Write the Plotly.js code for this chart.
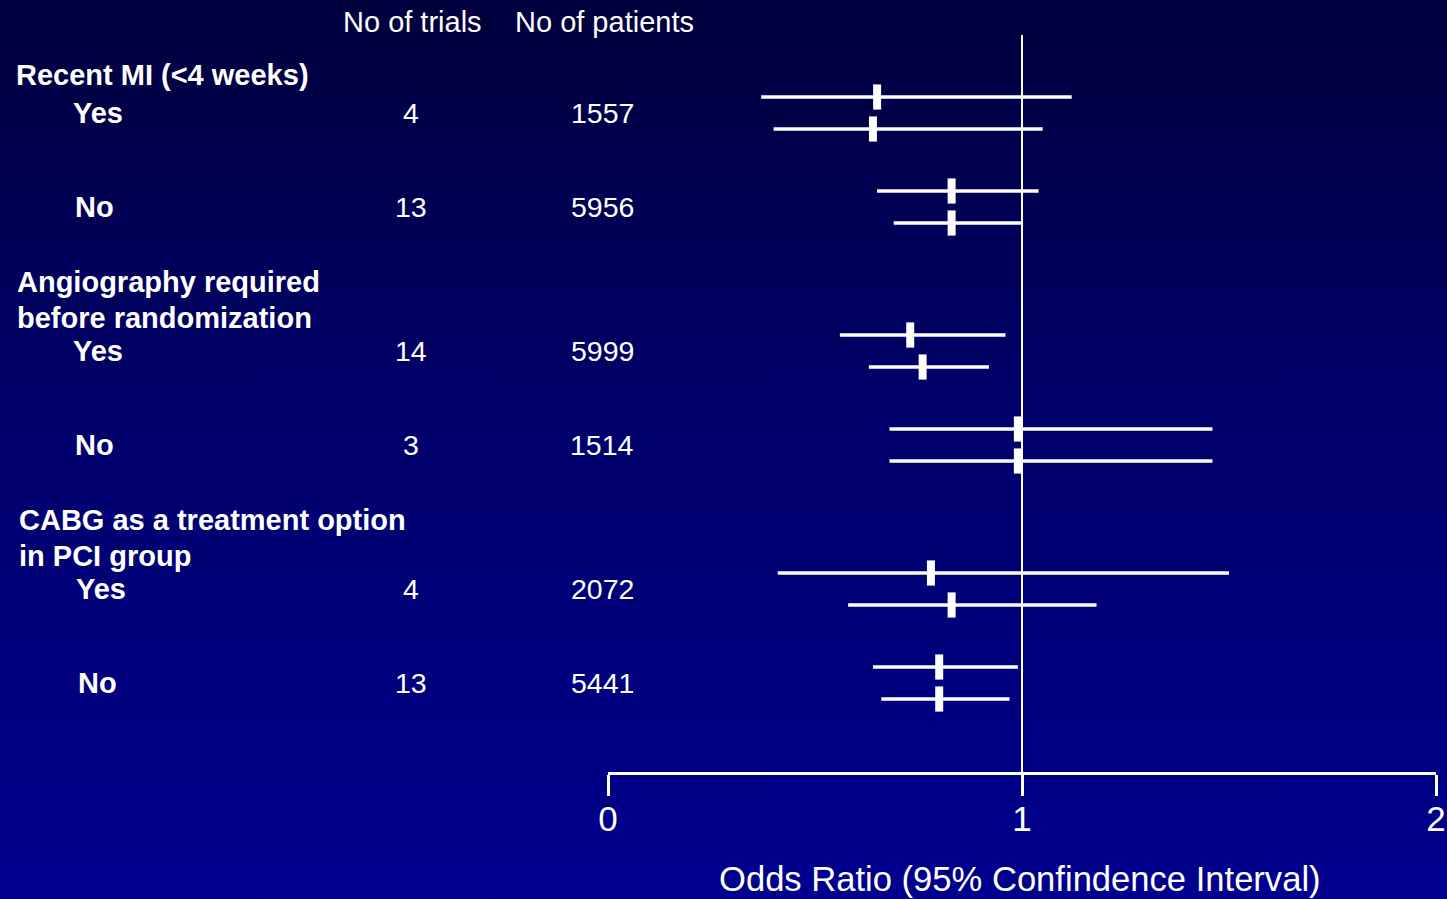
<!DOCTYPE html>
<html>
<head>
<meta charset="utf-8">
<script src="https://cdn.plot.ly/plotly-3.0.1.min.js"></script>
<style>
  html, body { margin: 0; padding: 0; }
  body {
    width: 1447px; height: 899px; overflow: hidden;
    background: linear-gradient(to bottom, #00003c 0%, #00006a 45%, #00008e 100%);
  }
  #chart { width: 1447px; height: 899px; }
</style>
</head>
<body>
<div id="chart"></div>
<script>
// Subgroup headings (one entry per printed line) and levels
const groups = [["Recent MI (<4 weeks)"], ["Angiography required", "before randomization"], ["CABG as a treatment option", "in PCI group"]];
const levels = ["Yes", "No"];

// Per subgroup (Yes/No within each heading, in order)
const trials = [4, 13, 14, 3, 4, 13];
const patients = [1557, 5956, 5999, 1514, 2072, 5441];

// Odds ratios with 95% CI, first estimate of each subgroup
const orA = [0.65, 0.83, 0.73, 0.99, 0.78, 0.80];
const loA = [0.37, 0.65, 0.56, 0.68, 0.41, 0.64];
const hiA = [1.12, 1.04, 0.96, 1.46, 1.50, 0.99];

// Odds ratios with 95% CI, second estimate of each subgroup
const orB = [0.64, 0.83, 0.76, 0.99, 0.83, 0.80];
const loB = [0.40, 0.69, 0.63, 0.68, 0.58, 0.66];
const hiB = [1.05, 1.00, 0.92, 1.46, 1.18, 0.97];

const axisTicks = [0, 1, 2];
const axisTitle = "Odds Ratio (95% Confindence Interval)";

// ---- layout geometry (figure pixels) ----
const W = 1447, H = 899;
const M = { l: 608, r: 11, t: 0, b: 127 };
const plotH = H - M.t - M.b;
const plotW = W - M.l - M.r;
const FONT = "Liberation Sans, Arial, Helvetica, sans-serif";

// vertical position of a row: group g, level s, estimate k (0 = first, 1 = second)
function rowY(g, s, k) { return 97 + g * 238 + s * 94 + k * 32; }
const px2x = px => (px - M.l) / plotW;
const py2y = py => 1 - (py - M.t) / plotH;

const yA = [], yB = [];
orA.forEach((_, i) => {
  const g = Math.floor(i / 2), s = i % 2;
  yA.push(rowY(g, s, 0));
  yB.push(rowY(g, s, 1));
});

function estTrace(or, lo, hi, y) {
  return {
    type: "scatter", mode: "markers",
    x: or, y: y,
    cliponaxis: false,
    hoverinfo: "skip",
    marker: { symbol: "line-ns", size: 18, color: "white", line: { color: "white", width: 8 } },
    error_x: {
      type: "data", symmetric: false,
      array: hi.map((h, i) => h - or[i]),
      arrayminus: lo.map((l, i) => or[i] - l),
      color: "white", thickness: 3.5, width: 0
    }
  };
}

const annotations = [];
function label(text, px, py, opts) {
  annotations.push(Object.assign({
    text: text, xref: "paper", yref: "paper",
    x: px2x(px), y: py2y(py),
    xanchor: "left", yanchor: "middle", align: "left",
    showarrow: false, borderpad: 0,
    font: { family: FONT, size: 28.5, color: "white" }
  }, opts || {}));
}

// column headers
const headFont = { family: FONT, size: 29, color: "white" };
label("No of trials", 412, 22, { xanchor: "center", font: headFont });
label("No of patients", 604, 22, { xanchor: "center", font: headFont });

// group headings, lines stacked 35 px apart above the first level row
const boldFont = { family: FONT, size: 29, color: "white" };
const headingX = [15, 16, 18];
const headingBottom = [75, 318, 556];
groups.forEach((lines, g) => {
  lines.forEach((ln, j) => {
    label("<b>" + ln + "</b>", headingX[g], headingBottom[g] - (lines.length - 1 - j) * 36, { font: boldFont });
  });
});

// levels and counts
trials.forEach((n, i) => {
  const g = Math.floor(i / 2), s = i % 2;
  const yc = rowY(g, s, 0) + 16;
  label("<b>" + levels[s] + "</b>", (s === 0 ? 72 : 74) + (g === 2 ? 3 : 0), yc, { font: boldFont });
  label(String(n), 411, yc, { xanchor: "center" });
  label(String(patients[i]), 602, yc, { xanchor: "center" });
});

// axis title
label(axisTitle, 1020, 879, { xanchor: "center", font: { family: FONT, size: 34.6, color: "white" } });

const layout = {
  width: W, height: H,
  margin: M,
  paper_bgcolor: "rgba(0,0,0,0)",
  plot_bgcolor: "rgba(0,0,0,0)",
  showlegend: false,
  font: { family: FONT, color: "white" },
  xaxis: {
    range: [0, 2],
    tickvals: axisTicks,
    ticktext: axisTicks.map(String),
    showgrid: false, zeroline: false,
    showline: true, linecolor: "white", linewidth: 3,
    ticks: "outside", ticklen: 21, tickwidth: 3, tickcolor: "white",
    ticklabelstandoff: -7,
    tickfont: { family: FONT, size: 35, color: "white" },
    fixedrange: true
  },
  yaxis: {
    range: [plotH, 0],
    visible: false,
    fixedrange: true
  },
  shapes: [{
    type: "line", xref: "x", yref: "paper",
    x0: 1, x1: 1, y0: 0, y1: py2y(35),
    line: { color: "white", width: 2 }
  }],
  annotations: annotations
};

Plotly.newPlot("chart", [estTrace(orA, loA, hiA, yA), estTrace(orB, loB, hiB, yB)], layout,
  { displayModeBar: false, staticPlot: true });
</script>
</body>
</html>
